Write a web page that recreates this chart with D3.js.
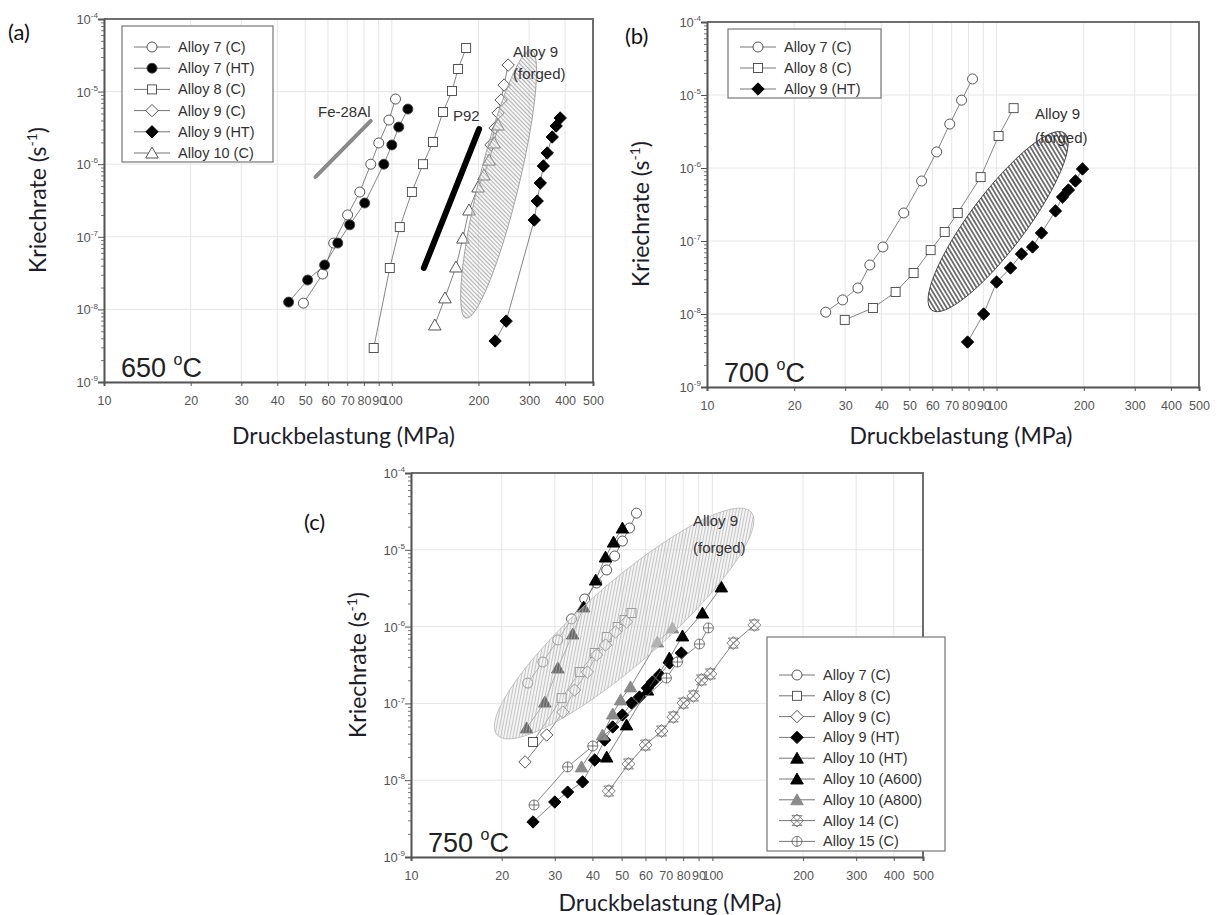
<!DOCTYPE html>
<html>
<head>
<meta charset="utf-8">
<script src="https://cdn.jsdelivr.net/npm/d3@7"></script>
<style>
  body { margin: 0; background: #fff; }
  svg { display: block; }
  text { font-family: "Liberation Sans", Arial, sans-serif; }
</style>
</head>
<body>
<script>
// ---- data (stress in MPa, creep rate in 1/s) ----

// axis ticks
var stressTicks = [10, 20, 30, 40, 50, 60, 70, 80, 90, 100, 200, 300, 400, 500];
var rateExps = [-9, -8, -7, -6, -5, -4];

// (a) 650 C
var a7C_stress  = [49.3, 57.5, 62.8, 70.2, 77.4, 84.5, 90.1, 97.7, 103];
var a7C_rate    = [1.22e-8, 3.07e-8, 8.2e-8, 2.0e-7, 4.14e-7, 1.0e-6, 1.96e-6, 4.06e-6, 7.9e-6];
var a7HT_stress = [43.8, 51.0, 58.4, 64.9, 71.4, 80.5, 93.8, 100, 105.7, 113.7];
var a7HT_rate   = [1.26e-8, 2.54e-8, 4.09e-8, 8.2e-8, 1.46e-7, 2.92e-7, 1.0e-6, 1.84e-6, 3.25e-6, 5.75e-6];
var a8C_stress  = [86.5, 98.4, 106.6, 117.4, 128.3, 139, 150.6, 161.9, 169.9, 181.2];
var a8C_rate    = [2.94e-9, 3.72e-8, 1.36e-7, 4.14e-7, 1.0e-6, 2.02e-6, 5.24e-6, 1.02e-5, 2.05e-5, 3.99e-5];
var a9C_stress  = [221, 228.5, 234, 239.7, 245.5, 253.6];
var a9C_rate    = [1.84e-6, 3.15e-6, 5.07e-6, 7.66e-6, 1.23e-5, 2.32e-5];
var a9HT_stress = [228.5, 249.6, 312.5, 320, 328, 336, 346.7, 360.8, 372.4, 384.6];
var a9HT_rate   = [3.67e-9, 6.9e-9, 1.70e-7, 3.11e-7, 5.5e-7, 9.45e-7, 1.43e-6, 2.37e-6, 3.36e-6, 4.33e-6];
var a10C_stress = [141, 153, 167, 176.6, 185.4, 199.4, 209, 217.8, 226.6, 233.9];
var a10C_rate   = [6.1e-9, 1.44e-8, 3.84e-8, 9.6e-8, 2.34e-7, 4.85e-7, 7.1e-7, 1.14e-6, 1.96e-6, 3.47e-6];
var fe28_stress = [54.3, 84.5];
var fe28_rate   = [6.67e-7, 3.94e-6];
var p92_stress  = [129.2, 201];
var p92_rate    = [3.72e-8, 3.05e-6];
var aForged_stress = [181, 305];
var aForged_rate   = [7.6e-9, 3.74e-5];

// (b) 700 C
var b7C_stress  = [25.7, 29.4, 33.2, 36.5, 40.5, 47.8, 55.1, 62.1, 68.9, 75.7, 82.6];
var b7C_rate    = [1.06e-8, 1.56e-8, 2.27e-8, 4.69e-8, 8.28e-8, 2.42e-7, 6.64e-7, 1.66e-6, 4.0e-6, 8.5e-6, 1.66e-5];
var b8C_stress  = [29.9, 37.4, 44.8, 51.7, 59.2, 66.2, 73.4, 88.1, 101.6, 114.5];
var b8C_rate    = [8.3e-9, 1.21e-8, 2.0e-8, 3.65e-8, 7.5e-8, 1.33e-7, 2.42e-7, 7.5e-7, 2.74e-6, 6.6e-6];
var b9HT_stress = [79.4, 90.2, 100, 111.7, 121.9, 133.1, 142.9, 159.7, 168.9, 177, 187.2, 198];
var b9HT_rate   = [4.13e-9, 1.0e-8, 2.74e-8, 4.27e-8, 6.64e-8, 8.28e-8, 1.29e-7, 2.58e-7, 4.0e-7, 5.0e-7, 6.64e-7, 9.7e-7];
var bForged_stress = [59.7, 171.6];
var bForged_rate   = [1.13e-8, 3.01e-6];

// (c) 750 C
var c7C_stress   = [24.4, 27.4, 30.7, 34.1, 37.7, 41.3, 44.6, 47.4, 50.3, 53.1, 56.0];
var c7C_rate     = [1.84e-7, 3.46e-7, 6.7e-7, 1.26e-6, 2.29e-6, 3.70e-6, 5.46e-6, 8.3e-6, 1.30e-5, 1.92e-5, 3.0e-5];
var c8C_stress   = [25.4, 31.6, 36.3, 40.7, 44.6, 48.5, 51.1, 53.9];
var c8C_rate     = [3.14e-8, 1.17e-7, 2.56e-7, 4.53e-7, 7.3e-7, 9.9e-7, 1.22e-6, 1.50e-6];
var c9C_stress   = [23.9, 28.2, 31.9, 34.9, 38.5, 41.3, 44.2, 47.7, 51.9];
var c9C_rate     = [1.73e-8, 3.88e-8, 7.7e-8, 1.49e-7, 2.56e-7, 4.27e-7, 5.75e-7, 8.5e-7, 1.15e-6];
var c9HT_stress  = [25.4, 30.0, 33.1, 37.1, 40.7, 43.9, 46.7, 50.3, 53.9, 57.3, 60.9, 63.3, 66.8, 72.1, 78.9];
var c9HT_rate    = [2.86e-9, 5.2e-9, 7.0e-9, 9.5e-9, 1.83e-8, 3.33e-8, 4.93e-8, 7.06e-8, 1.01e-7, 1.21e-7, 1.59e-7, 1.90e-7, 2.34e-7, 3.36e-7, 4.53e-7];
var c10HT_stress = [24.2, 27.8, 30.7, 34.4, 37.4, 41.0, 44.2, 47.0, 50.3];
var c10HT_rate   = [4.79e-8, 1.04e-7, 2.89e-7, 8.0e-7, 1.80e-6, 4.04e-6, 8.05e-6, 1.26e-5, 1.92e-5];
var c10A6_stress = [44.6, 51.9, 60.9, 72.0, 79.6, 92.7, 107.1];
var c10A6_rate   = [2.0e-8, 5.24e-8, 1.49e-7, 3.90e-7, 7.55e-7, 1.50e-6, 3.28e-6];
var c10A8_stress = [36.8, 43.2, 46.7, 49.6, 53.5, 65.7, 73.7];
var c10A8_rate   = [1.49e-8, 3.88e-8, 7.28e-8, 1.11e-7, 1.64e-7, 6.3e-7, 9.6e-7];
var c14C_stress  = [45.3, 52.7, 60.0, 67.8, 74.2, 80.2, 86.5, 92.0, 98.5, 117.4, 137.8];
var c14C_rate    = [7.23e-9, 1.63e-8, 2.87e-8, 4.37e-8, 6.65e-8, 1.01e-7, 1.25e-7, 2.02e-7, 2.42e-7, 6.1e-7, 1.05e-6];
var c15C_stress  = [25.6, 33.1, 40.1, 70.4, 76.6, 90.6, 97.0];
var c15C_rate    = [4.75e-9, 1.49e-8, 2.79e-8, 2.14e-7, 3.46e-7, 5.93e-7, 9.6e-7];
var cForged_stress = [19.3, 134.6];
var cForged_rate   = [3.88e-8, 3.1e-5];

// ---- drawing ----
var svg = d3.select("body").append("svg")
  .attr("width", 1219).attr("height", 915);

var defs = svg.append("defs");
function hatch(id, angle, gap, color, width) {
  var p = defs.append("pattern").attr("id", id)
    .attr("patternUnits", "userSpaceOnUse")
    .attr("width", gap).attr("height", 10)
    .attr("patternTransform", "rotate(" + angle + ")");
  p.append("line").attr("x1", gap / 2).attr("y1", 0).attr("x2", gap / 2).attr("y2", 10)
    .attr("stroke", color).attr("stroke-width", width);
}
hatch("hatchA", 32, 3, "#9a9a9a", 0.7);
hatch("hatchB", 22, 3.6, "#333", 1.3);
hatch("hatchC", 52, 3, "#b0b0b0", 0.7);

function zip(xs, ys) { return xs.map(function(v, i) { return [v, ys[i]]; }); }

// marker shapes
function marker(g, type, cx, cy) {
  var m = g.append("g").attr("transform", "translate(" + cx + "," + cy + ")");
  var st = "#444";
  if (type == "circleOpen" || type == "circleFilled") {
    m.append("circle").attr("r", 5)
      .attr("fill", type == "circleOpen" ? "#fff" : "#000").attr("stroke", st).attr("stroke-width", 0.9);
  } else if (type == "squareOpen") {
    m.append("rect").attr("x", -4.5).attr("y", -4.5).attr("width", 9).attr("height", 9)
      .attr("fill", "#fff").attr("stroke", st).attr("stroke-width", 0.9);
  } else if (type == "diamondOpen" || type == "diamondFilled") {
    m.append("path").attr("d", "M0,-6.2L6.2,0L0,6.2L-6.2,0Z")
      .attr("fill", type == "diamondOpen" ? "#fff" : "#000").attr("stroke", type == "diamondOpen" ? st : "#000").attr("stroke-width", 0.9);
  } else if (type == "triOpen" || type == "triFilled" || type == "triGray") {
    var f = type == "triOpen" ? "#fff" : (type == "triFilled" ? "#000" : "#8a8a8a");
    m.append("path").attr("d", "M0,-6L6.3,5L-6.3,5Z")
      .attr("fill", f).attr("stroke", type == "triGray" ? "#8a8a8a" : (type == "triFilled" ? "#000" : st)).attr("stroke-width", 0.9);
  } else if (type == "xstar") {
    m.append("path").attr("d", "M-5,-5L5,5M-5,5L5,-5M-5,-5L5,-5M-5,5L5,5M0,-6.5L6.5,0L0,6.5L-6.5,0Z")
      .attr("fill", "none").attr("stroke", "#666").attr("stroke-width", 0.8);
  } else if (type == "crossCircle") {
    m.append("circle").attr("r", 5).attr("fill", "#fff").attr("stroke", "#555").attr("stroke-width", 0.8);
    m.append("path").attr("d", "M-5,0L5,0M0,-5L0,5").attr("stroke", "#555").attr("stroke-width", 0.8);
  }
}

function supLabel(g, x, y, base, sup, size, anchor, color) {
  var t = g.append("text").attr("x", x).attr("y", y).attr("text-anchor", anchor)
    .attr("font-size", size).attr("fill", color);
  t.append("tspan").text(base);
  t.append("tspan").attr("font-size", size * 0.62).attr("dy", -size * 0.45).text(sup);
  return t;
}

function panel(cfg) {
  var x = d3.scaleLog().domain([10, 500]).range([cfg.left, cfg.right]);
  var y = d3.scaleLog().domain([1e-9, 1e-4]).range([cfg.bottom, cfg.top]);
  var g = svg.append("g");

  // grid
  g.selectAll("line.gx").data(stressTicks).enter().append("line")
    .attr("x1", function(d) { return x(d); }).attr("x2", function(d) { return x(d); })
    .attr("y1", cfg.top).attr("y2", cfg.bottom)
    .attr("stroke", "#e6e6e6").attr("stroke-width", 1);
  g.selectAll("line.gy").data(rateExps).enter().append("line")
    .attr("x1", cfg.left).attr("x2", cfg.right)
    .attr("y1", function(d) { return y(Math.pow(10, d)); }).attr("y2", function(d) { return y(Math.pow(10, d)); })
    .attr("stroke", "#e6e6e6").attr("stroke-width", 1);

  // frame top/right
  g.append("path")
    .attr("d", "M" + cfg.left + "," + cfg.top + "H" + cfg.right + "V" + cfg.bottom)
    .attr("fill", "none").attr("stroke", "#6e6e6e").attr("stroke-width", 2);

  var under = g.append("g"), marks = g.append("g"), over = g.append("g");

  // forged ellipse
  var e = cfg.ellipse;
  var p1 = [x(e.stress[0]), y(e.rate[0])], p2 = [x(e.stress[1]), y(e.rate[1])];
  var ecx = (p1[0] + p2[0]) / 2, ecy = (p1[1] + p2[1]) / 2;
  var rx = Math.hypot(p2[0] - p1[0], p2[1] - p1[1]) / 2;
  var ang = Math.atan2(p2[1] - p1[1], p2[0] - p1[0]) * 180 / Math.PI;
  var eg = e.onTop ? over : under;
  eg.append("ellipse").attr("cx", ecx).attr("cy", ecy).attr("rx", rx).attr("ry", e.width)
    .attr("transform", "rotate(" + ang + "," + ecx + "," + ecy + ")")
    .attr("fill", e.bg);
  eg.append("ellipse").attr("cx", ecx).attr("cy", ecy).attr("rx", rx).attr("ry", e.width)
    .attr("transform", "rotate(" + ang + "," + ecx + "," + ecy + ")")
    .attr("fill", "url(#" + e.pattern + ")").attr("stroke", e.edge).attr("stroke-width", 0.8);
  (e.textLines).forEach(function(s, i) {
    g.append("text").attr("x", e.tx).attr("y", e.ty + i * e.lh)
      .attr("font-size", 15).attr("fill", "#333").text(s);
  });

  // reference lines
  (cfg.refLines || []).forEach(function(r) {
    under.append("line")
      .attr("x1", x(r.stress[0])).attr("y1", y(r.rate[0]))
      .attr("x2", x(r.stress[1])).attr("y2", y(r.rate[1]))
      .attr("stroke", r.color).attr("stroke-width", r.w).attr("stroke-linecap", "round");
    g.append("text").attr("x", r.tx).attr("y", r.ty).attr("font-size", 15)
      .attr("fill", "#333").text(r.label);
  });

  // series
  var line = d3.line().x(function(d) { return x(d[0]); }).y(function(d) { return y(d[1]); });
  cfg.series.forEach(function(s) {
    var pts = zip(s.stress, s.rate);
    marks.append("path").attr("d", line(pts)).attr("fill", "none")
      .attr("stroke", "#666").attr("stroke-width", 0.8);
    pts.forEach(function(d) { marker(marks, s.type, x(d[0]), y(d[1])); });
  });

  // axes
  var xa = g.append("g").attr("transform", "translate(0," + cfg.bottom + ")")
    .call(d3.axisBottom(x).tickValues(stressTicks).tickSize(4).tickFormat(d3.format("d")));
  xa.select(".domain").attr("stroke", "#555").attr("stroke-width", 2);
  xa.selectAll(".tick line").attr("stroke", "#555");
  xa.selectAll(".tick text").attr("font-size", 12.5).attr("fill", "#555")
    .attr("font-family", "Liberation Sans, Arial, sans-serif").attr("dy", "1.3em");

  var minors = [];
  rateExps.forEach(function(p) {
    if (p < -4) for (var k = 2; k < 10; k++) minors.push(k * Math.pow(10, p));
  });
  var ym = g.append("g").attr("transform", "translate(" + cfg.left + ",0)")
    .call(d3.axisLeft(y).tickValues(minors).tickSize(3).tickFormat(""));
  ym.select(".domain").remove();
  ym.selectAll(".tick line").attr("stroke", "#777");
  var ya = g.append("g").attr("transform", "translate(" + cfg.left + ",0)")
    .call(d3.axisLeft(y).tickValues(rateExps.map(function(p) { return Math.pow(10, p); }))
      .tickSize(6).tickFormat(""));
  ya.select(".domain").attr("stroke", "#555").attr("stroke-width", 2);
  ya.selectAll(".tick line").attr("stroke", "#555");
  rateExps.forEach(function(p) {
    supLabel(g, cfg.left - 6, y(Math.pow(10, p)) + 5, "10", String(p), 13, "end", "#555");
  });

  // temperature
  var tt = g.append("text").attr("x", cfg.left + 17).attr("y", cfg.bottom - 5)
    .attr("font-size", 27).attr("fill", "#222");
  tt.append("tspan").text(cfg.temp + " ");
  tt.append("tspan").attr("font-size", 16).attr("dy", -12).text("o");
  tt.append("tspan").attr("dy", 12).text("C");

  // axis titles
  svg.append("text").attr("x", (cfg.left + cfg.right) / 2 + cfg.titleDx).attr("y", cfg.bottom + cfg.titleDy)
    .attr("text-anchor", "middle").attr("font-size", 23).attr("fill", "#1e1e2a")
    .style("font-family", "Lato, 'Open Sans', sans-serif").text("Druckbelastung (MPa)");
  var yt = svg.append("text")
    .attr("transform", "translate(" + cfg.ytX + "," + cfg.ytY + ") rotate(-90)")
    .attr("text-anchor", "middle").attr("font-size", 23).attr("fill", "#1e1e2a")
    .style("font-family", "Lato, 'Open Sans', sans-serif");
  yt.append("tspan").text("Kriechrate (s");
  yt.append("tspan").attr("font-size", 14).attr("dy", -9).text("-1");
  yt.append("tspan").attr("dy", 9).text(")");

  // panel letter
  svg.append("text").attr("x", cfg.letterX).attr("y", cfg.letterY)
    .attr("font-size", 22).attr("fill", "#111")
    .style("font-family", "Lato, 'Open Sans', sans-serif").text(cfg.letter);

  // legend
  var L = cfg.legend;
  var lg = g.append("g");
  lg.append("rect").attr("x", L.x).attr("y", L.y).attr("width", L.w).attr("height", L.h)
    .attr("fill", "#fff").attr("stroke", "#777").attr("stroke-width", 1.2);
  cfg.series.forEach(function(s, i) {
    var cy = L.y + L.first + i * L.step;
    lg.append("line").attr("x1", L.x + 12).attr("x2", L.x + 48).attr("y1", cy).attr("y2", cy)
      .attr("stroke", "#666").attr("stroke-width", 0.9);
    marker(lg, s.type, L.x + 30, cy);
    lg.append("text").attr("x", L.x + 56).attr("y", cy + 5).attr("font-size", 14.5)
      .attr("fill", "#333").text(s.name);
  });
}

panel({
  letter: "(a)", letterX: 8, letterY: 40,
  left: 104, right: 593, top: 19, bottom: 382, temp: "650",
  titleDx: -5, titleDy: 62, ytX: 46, ytY: 200,
  ellipse: { stress: aForged_stress, rate: aForged_rate, width: 20, pattern: "hatchA",
             bg: "rgba(225,225,225,0.35)", edge: "#999", onTop: true,
             textLines: ["Alloy 9", "(forged)"], tx: 513, ty: 57, lh: 22 },
  refLines: [
    { stress: fe28_stress, rate: fe28_rate, color: "#8a8a8a", w: 4, label: "Fe-28Al", tx: 318, ty: 117 },
    { stress: p92_stress, rate: p92_rate, color: "#000", w: 6, label: "P92", tx: 453, ty: 121 }
  ],
  legend: { x: 122, y: 26, w: 151, h: 136, first: 21, step: 21.2 },
  series: [
    { name: "Alloy 7 (C)",  stress: a7C_stress,  rate: a7C_rate,  type: "circleOpen" },
    { name: "Alloy 7 (HT)", stress: a7HT_stress, rate: a7HT_rate, type: "circleFilled" },
    { name: "Alloy 8 (C)",  stress: a8C_stress,  rate: a8C_rate,  type: "squareOpen" },
    { name: "Alloy 9 (C)",  stress: a9C_stress,  rate: a9C_rate,  type: "diamondOpen" },
    { name: "Alloy 9 (HT)", stress: a9HT_stress, rate: a9HT_rate, type: "diamondFilled" },
    { name: "Alloy 10 (C)", stress: a10C_stress, rate: a10C_rate, type: "triOpen" }
  ]
});

panel({
  letter: "(b)", letterX: 625, letterY: 44,
  left: 707, right: 1199, top: 22, bottom: 387, temp: "700",
  titleDx: 8, titleDy: 57, ytX: 649, ytY: 214,
  ellipse: { stress: bForged_stress, rate: bForged_rate, width: 28, pattern: "hatchB",
             bg: "#fff", edge: "#333", onTop: false,
             textLines: ["Alloy 9", "(forged)"], tx: 1035, ty: 119, lh: 24 },
  legend: { x: 728, y: 29, w: 153, h: 69, first: 18, step: 21 },
  series: [
    { name: "Alloy 7 (C)",  stress: b7C_stress,  rate: b7C_rate,  type: "circleOpen" },
    { name: "Alloy 8 (C)",  stress: b8C_stress,  rate: b8C_rate,  type: "squareOpen" },
    { name: "Alloy 9 (HT)", stress: b9HT_stress, rate: b9HT_rate, type: "diamondFilled" }
  ]
});

panel({
  letter: "(c)", letterX: 304, letterY: 530,
  left: 411, right: 923, top: 473, bottom: 857, temp: "750",
  titleDx: 3, titleDy: 54, ytX: 366, ytY: 665,
  ellipse: { stress: cForged_stress, rate: cForged_rate, width: 40, pattern: "hatchC",
             bg: "rgba(230,230,230,0.45)", edge: "#bbb", onTop: true,
             textLines: ["Alloy 9", "(forged)"], tx: 693, ty: 526, lh: 27 },
  legend: { x: 767, y: 637, w: 178, h: 214, first: 38, step: 20.8 },
  series: [
    { name: "Alloy 7 (C)",     stress: c7C_stress,   rate: c7C_rate,   type: "circleOpen" },
    { name: "Alloy 8 (C)",     stress: c8C_stress,   rate: c8C_rate,   type: "squareOpen" },
    { name: "Alloy 9 (C)",     stress: c9C_stress,   rate: c9C_rate,   type: "diamondOpen" },
    { name: "Alloy 9 (HT)",    stress: c9HT_stress,  rate: c9HT_rate,  type: "diamondFilled" },
    { name: "Alloy 10 (HT)",   stress: c10HT_stress, rate: c10HT_rate, type: "triFilled" },
    { name: "Alloy 10 (A600)", stress: c10A6_stress, rate: c10A6_rate, type: "triFilled" },
    { name: "Alloy 10 (A800)", stress: c10A8_stress, rate: c10A8_rate, type: "triGray" },
    { name: "Alloy 14 (C)",    stress: c14C_stress,  rate: c14C_rate,  type: "xstar" },
    { name: "Alloy 15 (C)",    stress: c15C_stress,  rate: c15C_rate,  type: "crossCircle" }
  ]
});
</script>
</body>
</html>
